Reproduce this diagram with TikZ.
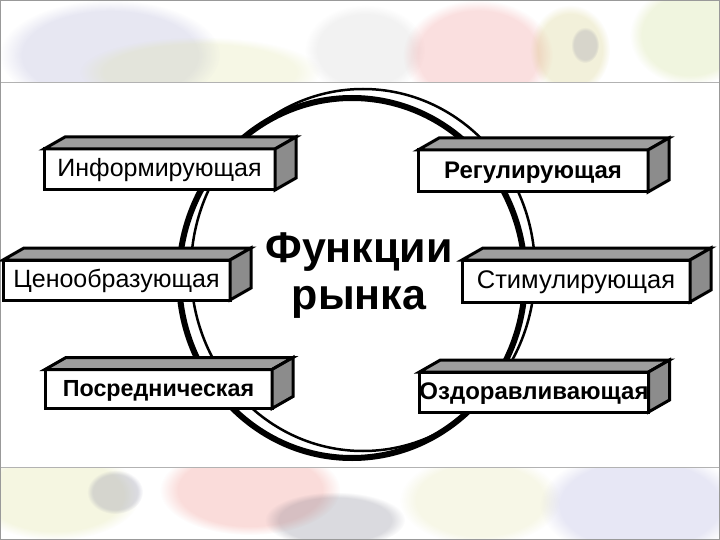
\documentclass[tikz,border=0pt]{standalone}
\usepackage{fontspec}
\setmainfont{Liberation Sans}
\usetikzlibrary{fadings}
\tikzset{
  front/.style={draw, line width=3pt, fill=white, outer sep=0pt, inner sep=0pt, text=black, text height=20pt, text depth=5pt},
  topface/.style={draw, line width=3pt, fill=black!38},
  sideface/.style={draw, line width=3pt, fill=black!45},
  blob/.style={path fading=circle with fuzzy edge 20 percent, opacity=0.22},
  ftxt/.style={font=\fontsize{25}{28}\selectfont},
  fbold/.style={font=\fontsize{24}{28}\selectfont\bfseries}
}
\newcommand\bxfaces[1]{%
  \filldraw[topface] (#1.north west) -- ++(21,-12) -- ([shift={(21,-12)}]#1.north east) -- (#1.north east) -- cycle;
  \filldraw[sideface] (#1.north east) -- ++(21,-12) -- ([shift={(21,-12)}]#1.south east) -- (#1.south east) -- cycle;}
\begin{document}
\begin{tikzpicture}[x=1pt,y=-1pt]
\useasboundingbox (0,0) rectangle (720,540);
\fill[white] (0,0) rectangle (720,540);
% top watercolor band
\begin{scope}
\clip (0,0) rectangle (720,83);
\fill[blob, color={rgb,255:red,150;green,150;blue,200}] (110,55) ellipse [x radius=110, y radius=55];
\fill[blob, color={rgb,255:red,215;green,220;blue,140}] (200,72) ellipse [x radius=120, y radius=35];
\fill[blob, color={rgb,255:red,200;green,200;blue,200}] (365,50) ellipse [x radius=60, y radius=45];
\fill[blob, color={rgb,255:red,235;green,110;blue,110}] (478,55) ellipse [x radius=75, y radius=55];
\fill[blob, color={rgb,255:red,200;green,190;blue,90}] (570,50) ellipse [x radius=40, y radius=45];
\fill[blob, color={rgb,255:red,120;green,120;blue,150}] (585,45) ellipse [x radius=14, y radius=18];
\fill[blob, color={rgb,255:red,190;green,210;blue,110}] (690,35) ellipse [x radius=60, y radius=50];
\end{scope}
% bottom watercolor band
\begin{scope}
\clip (0,467) rectangle (720,540);
\fill[blob, color={rgb,255:red,210;green,215;blue,120}] (55,495) ellipse [x radius=85, y radius=45];
\fill[blob, color={rgb,255:red,100;green,100;blue,140}] (115,492) ellipse [x radius=28, y radius=22];
\fill[blob, color={rgb,255:red,235;green,100;blue,90}] (250,490) ellipse [x radius=90, y radius=45];
\fill[blob, color={rgb,255:red,90;green,90;blue,110}] (335,520) ellipse [x radius=70, y radius=28];
\fill[blob, color={rgb,255:red,220;green,220;blue,150}] (480,500) ellipse [x radius=80, y radius=45];
\fill[blob, color={rgb,255:red,150;green,150;blue,210}] (640,505) ellipse [x radius=100, y radius=55];
\end{scope}
\draw[black!30, line width=1pt] (0,83) -- (720,83) (0,467) -- (720,467);
\draw[black!40, line width=1pt] (0.5,0.5) rectangle (719.5,539.5);
% ring
\draw[line width=6pt] (352,278) ellipse [x radius=173, y radius=180];
\draw[line width=2.5pt] (363,270) ellipse [x radius=172, y radius=181];
% title
\node[font=\fontsize{43}{47}\selectfont\bfseries, align=center] (title) at (359,276) {Функции\\рынка};
% boxes
\node[front, ftxt, minimum width=231, minimum height=41] (inf) at (159.5,169.5) {Информирующая};
\bxfaces{inf}
\node[front, ftxt, minimum width=227, minimum height=40] (cen) at (116.5,280) {Ценообразующая};
\bxfaces{cen}
\node[front, fbold, font=\fontsize{23.3}{28}\selectfont\bfseries, minimum width=227, minimum height=39] (pos) at (158.5,389) {Посредническая};
\bxfaces{pos}
\node[front, fbold, minimum width=230, minimum height=42] (reg) at (533,171) {Регулирующая};
\bxfaces{reg}
\node[front, ftxt, font=\fontsize{25.5}{28}\selectfont, minimum width=228, minimum height=42] (stim) at (576,281) {Стимулирующая};
\bxfaces{stim}
\node[front, fbold, minimum width=228, minimum height=40] (ozd) at (534,392) {Оздоравливающая};
\bxfaces{ozd}
\end{tikzpicture}
\end{document}
